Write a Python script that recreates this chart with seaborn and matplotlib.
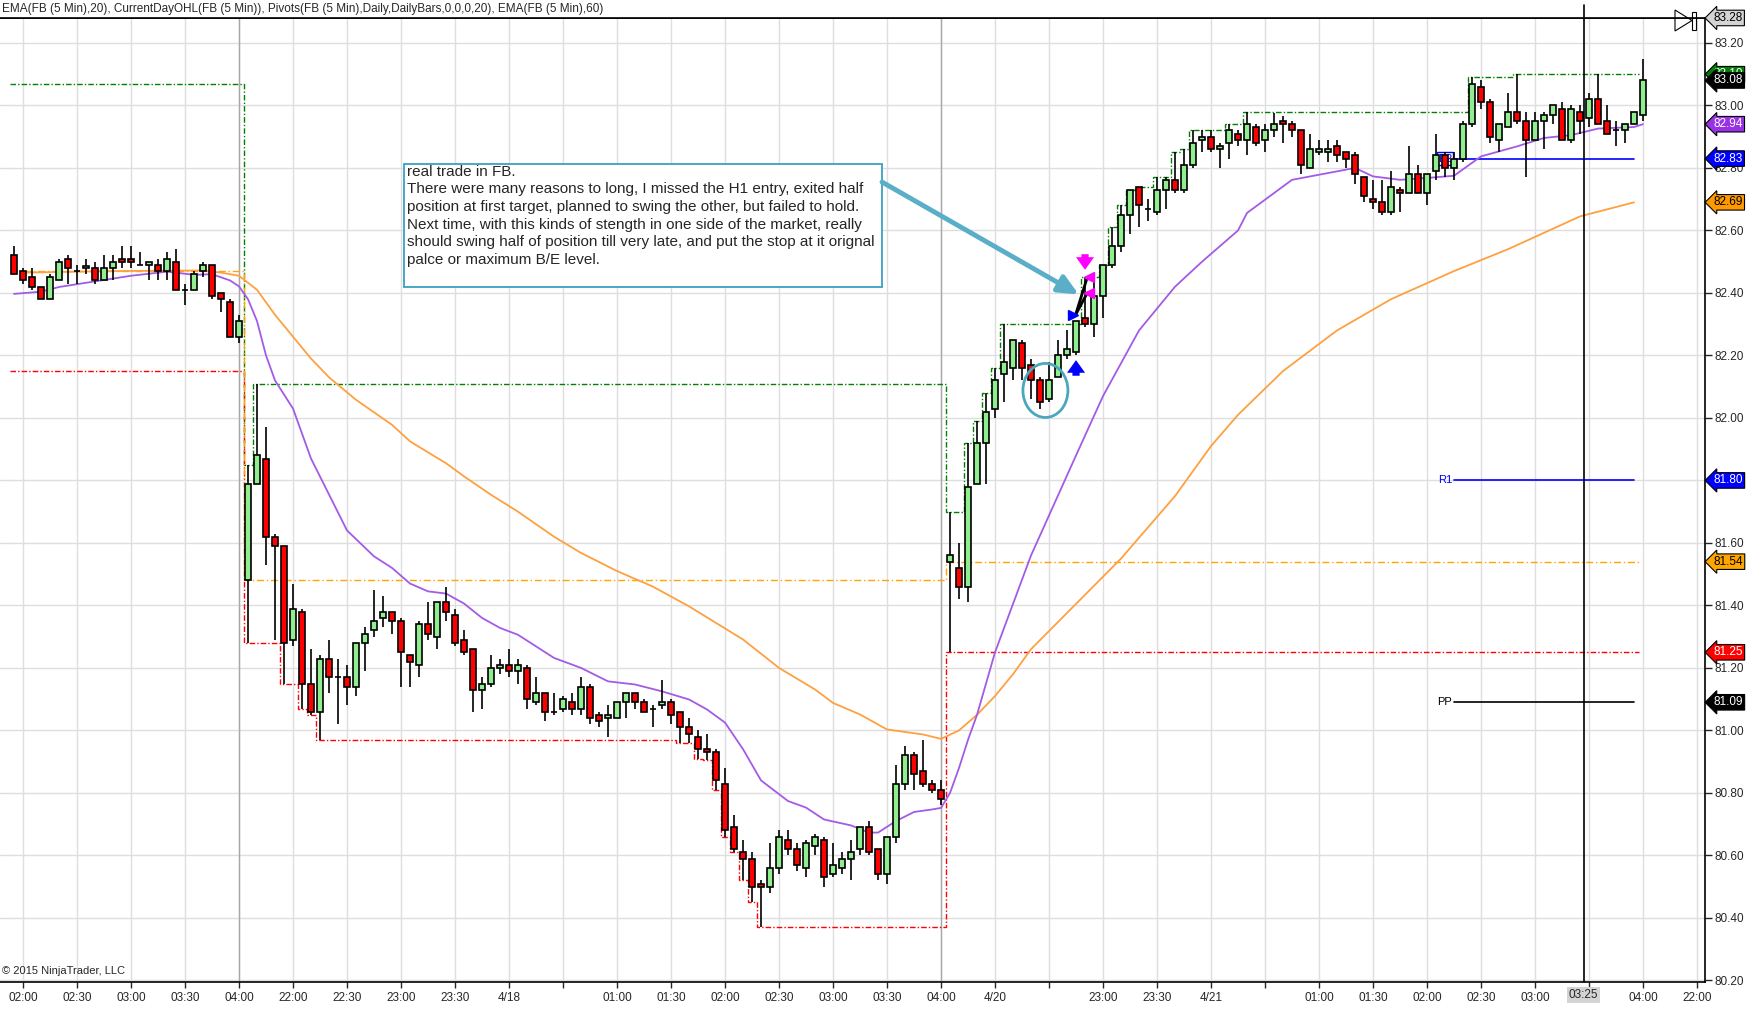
import numpy as np
import pandas as pd
import matplotlib
matplotlib.use("Agg")
import matplotlib.pyplot as plt
from matplotlib.patches import Ellipse, Polygon, Rectangle
import seaborn as sns

# 5-minute bars, index 0 = 02:00 of the first visible session
bars = list(range(-1, 181))
session_starts = [-1, 25, 103]

opens = [
    # session 1 (-1..24)
    82.52, 82.47, 82.45, 82.42, 82.38, 82.44, 82.51, 82.47, 82.48, 82.48, 82.44, 82.48, 82.51,
    82.51, 82.49, 82.49, 82.49, 82.47, 82.50, 82.41, 82.41, 82.47, 82.49, 82.40, 82.37, 82.26,
    # session 2 (25..102)
    81.48, 81.79, 81.87, 81.62, 81.59, 81.29, 81.38, 81.15, 81.06, 81.23,
    81.17, 81.17, 81.14, 81.28, 81.32, 81.36, 81.38, 81.35, 81.24, 81.21,
    81.34, 81.30, 81.41, 81.37, 81.29, 81.26, 81.13, 81.15, 81.20, 81.21,
    81.19, 81.20, 81.09, 81.12, 81.06, 81.07, 81.09, 81.07, 81.14, 81.05,
    81.04, 81.04, 81.09, 81.12, 81.09, 81.07, 81.08, 81.09, 81.06, 81.01,
    80.98, 80.94, 80.93, 80.83, 80.69, 80.61, 80.59, 80.51, 80.50, 80.56,
    80.65, 80.62, 80.56, 80.63, 80.65, 80.54, 80.56, 80.59, 80.62, 80.69,
    80.62, 80.54, 80.66, 80.83, 80.92, 80.87, 80.83, 80.81,
    # session 3 (103..180)
    81.54, 81.52, 81.46, 81.79, 81.92, 82.03, 82.14, 82.16, 82.24, 82.17,
    82.12, 82.06, 82.13, 82.20, 82.21, 82.32, 82.30, 82.39, 82.49, 82.55,
    82.65, 82.74, 82.67, 82.66, 82.73, 82.76, 82.73, 82.81, 82.89, 82.90,
    82.86, 82.88, 82.91, 82.89, 82.93, 82.89, 82.92, 82.95, 82.94, 82.92,
    82.80, 82.85, 82.85, 82.87, 82.85, 82.84, 82.77, 82.70, 82.69, 82.66,
    82.73, 82.72, 82.78, 82.72, 82.79, 82.84, 82.80, 82.83, 82.94, 83.06,
    83.01, 82.89, 82.93, 82.98, 82.95, 82.89, 82.95, 82.97, 82.99, 82.89,
    82.98, 82.96, 83.02, 82.95, 82.92, 82.92, 82.94, 82.97,
]
highs = [
    82.55, 82.48, 82.48, 82.42, 82.46, 82.51, 82.52, 82.49, 82.51, 82.50, 82.52, 82.52, 82.55,
    82.55, 82.53, 82.50, 82.51, 82.53, 82.54, 82.43, 82.47, 82.50, 82.49, 82.40, 82.38, 82.33,
    81.85, 82.11, 81.97, 81.63, 81.59, 81.47, 81.39, 81.26, 81.24, 81.29,
    81.23, 81.21, 81.28, 81.33, 81.45, 81.43, 81.38, 81.36, 81.24, 81.35,
    81.41, 81.41, 81.46, 81.39, 81.32, 81.26, 81.17, 81.24, 81.23, 81.26,
    81.23, 81.21, 81.17, 81.12, 81.12, 81.11, 81.12, 81.17, 81.15, 81.06,
    81.08, 81.09, 81.12, 81.12, 81.10, 81.08, 81.16, 81.10, 81.06, 81.04,
    81.00, 80.99, 80.94, 80.88, 80.73, 80.65, 80.61, 80.52, 80.64, 80.68,
    80.68, 80.64, 80.65, 80.67, 80.66, 80.64, 80.61, 80.65, 80.69, 80.71,
    80.62, 80.66, 80.89, 80.95, 80.93, 80.97, 80.84, 80.84,
    81.70, 81.60, 81.92, 81.99, 82.08, 82.16, 82.30, 82.25, 82.25, 82.19,
    82.13, 82.18, 82.25, 82.28, 82.30, 82.45, 82.45, 82.49, 82.61, 82.68,
    82.73, 82.74, 82.70, 82.77, 82.77, 82.85, 82.86, 82.92, 82.92, 82.92,
    82.88, 82.94, 82.92, 82.98, 82.94, 82.94, 82.975, 82.965, 82.95, 82.92,
    82.91, 82.89, 82.89, 82.89, 82.85, 82.85, 82.77, 82.76, 82.76, 82.79,
    82.74, 82.87, 82.81, 82.78, 82.91, 82.85, 82.85, 82.95, 83.09, 83.08,
    83.02, 82.94, 83.04, 83.10, 82.98, 82.98, 82.98, 83.00, 83.01, 83.00,
    83.00, 83.04, 83.10, 83.00, 82.95, 82.94, 82.98, 83.15,
]
lows = [
    82.46, 82.43, 82.41, 82.38, 82.38, 82.44, 82.43, 82.43, 82.46, 82.43, 82.44, 82.44, 82.48,
    82.48, 82.49, 82.44, 82.44, 82.44, 82.41, 82.36, 82.41, 82.45, 82.38, 82.34, 82.26, 82.24,
    81.28, 81.79, 81.53, 81.29, 81.15, 81.27, 81.07, 81.05, 80.97, 81.12,
    81.02, 81.08, 81.11, 81.19, 81.30, 81.33, 81.31, 81.14, 81.14, 81.17,
    81.29, 81.26, 81.35, 81.27, 81.24, 81.06, 81.07, 81.14, 81.18, 81.17,
    81.15, 81.07, 81.08, 81.03, 81.05, 81.06, 81.05, 81.05, 81.02, 81.01,
    80.98, 81.04, 81.04, 81.07, 81.06, 81.01, 81.07, 81.02, 80.96, 80.96,
    80.91, 80.905, 80.81, 80.66, 80.61, 80.52, 80.45, 80.37, 80.48, 80.54,
    80.60, 80.55, 80.53, 80.60, 80.50, 80.53, 80.54, 80.52, 80.60, 80.60,
    80.52, 80.51, 80.64, 80.81, 80.81, 80.82, 80.80, 80.76,
    81.25, 81.42, 81.41, 81.79, 81.79, 82.00, 82.05, 82.12, 82.12, 82.06,
    82.03, 82.05, 82.13, 82.19, 82.20, 82.29, 82.26, 82.32, 82.48, 82.53,
    82.59, 82.61, 82.63, 82.65, 82.67, 82.72, 82.72, 82.80, 82.85, 82.85,
    82.80, 82.83, 82.87, 82.84, 82.87, 82.85, 82.90, 82.88, 82.90, 82.78,
    82.80, 82.84, 82.82, 82.82, 82.80, 82.75, 82.69, 82.67, 82.65, 82.65,
    82.66, 82.72, 82.72, 82.68, 82.76, 82.77, 82.76, 82.82, 82.93, 82.99,
    82.88, 82.85, 82.93, 82.94, 82.77, 82.89, 82.86, 82.94, 82.89, 82.88,
    82.91, 82.93, 82.94, 82.91, 82.87, 82.88, 82.94, 82.95,
]
closes = [
    82.46, 82.44, 82.42, 82.38, 82.45, 82.50, 82.48, 82.47, 82.485, 82.44, 82.48, 82.50, 82.50,
    82.50, 82.49, 82.50, 82.47, 82.51, 82.41, 82.41, 82.46, 82.49, 82.39, 82.38, 82.26, 82.31,
    81.79, 81.88, 81.62, 81.59, 81.28, 81.39, 81.15, 81.06, 81.23, 81.17,
    81.17, 81.14, 81.28, 81.31, 81.35, 81.38, 81.35, 81.25, 81.22, 81.34,
    81.31, 81.41, 81.38, 81.28, 81.25, 81.13, 81.15, 81.20, 81.21, 81.19,
    81.21, 81.10, 81.12, 81.06, 81.06, 81.10, 81.07, 81.14, 81.04, 81.03,
    81.05, 81.09, 81.12, 81.09, 81.06, 81.07, 81.09, 81.05, 81.01, 80.99,
    80.94, 80.93, 80.84, 80.68, 80.62, 80.59, 80.50, 80.50, 80.56, 80.66,
    80.62, 80.57, 80.64, 80.66, 80.53, 80.57, 80.59, 80.61, 80.69, 80.61,
    80.54, 80.66, 80.83, 80.92, 80.86, 80.83, 80.81, 80.78,
    81.56, 81.46, 81.78, 81.92, 82.02, 82.12, 82.18, 82.25, 82.16, 82.12,
    82.05, 82.12, 82.20, 82.22, 82.31, 82.30, 82.39, 82.49, 82.55, 82.65,
    82.73, 82.68, 82.67, 82.73, 82.76, 82.73, 82.81, 82.88, 82.90, 82.86,
    82.87, 82.92, 82.89, 82.94, 82.88, 82.92, 82.94, 82.94, 82.92, 82.81,
    82.86, 82.86, 82.86, 82.84, 82.83, 82.78, 82.71, 82.69, 82.66, 82.74,
    82.72, 82.78, 82.72, 82.78, 82.84, 82.80, 82.83, 82.94, 83.07, 83.01,
    82.90, 82.94, 82.98, 82.95, 82.89, 82.95, 82.97, 83.00, 82.89, 82.99,
    82.95, 83.02, 82.94, 82.91, 82.92, 82.94, 82.98, 83.08,
]

# levels of the session that began before the visible window
prior_open, prior_high, prior_low = 82.47, 83.07, 82.15

# EMA readings (bar, value)
ema20_bar = [-1, 2, 4, 8, 12, 16, 19, 21, 23, 24, 25, 26, 27, 28, 30, 32, 36, 39, 41, 43, 45, 47,
             49, 51, 53, 55, 57, 59, 62, 65, 68, 71, 74, 76, 78, 80, 82, 85, 87, 89, 92, 94, 95,
             97, 99, 101, 102, 103, 104, 105, 106, 108, 112, 117, 120, 124, 128, 131, 135, 136,
             141, 148, 150, 153, 156, 159, 162, 166, 169, 172, 175, 179, 180]
ema20_val = [82.397, 82.404, 82.419, 82.437, 82.455, 82.468, 82.458, 82.460, 82.44, 82.421,
             82.38, 82.31, 82.20, 82.12, 82.03, 81.87, 81.64, 81.557, 81.52, 81.47, 81.445,
             81.438, 81.406, 81.36, 81.328, 81.306, 81.269, 81.232, 81.20, 81.157, 81.147,
             81.125, 81.099, 81.067, 81.025, 80.94, 80.84, 80.774, 80.753, 80.715, 80.696,
             80.673, 80.673, 80.71, 80.739, 80.747, 80.752, 80.80, 80.88, 80.97, 81.05, 81.25,
             81.56, 81.88, 82.07, 82.28, 82.42, 82.50, 82.60, 82.656, 82.762, 82.80, 82.773,
             82.762, 82.768, 82.775, 82.837, 82.869, 82.896, 82.905, 82.926, 82.931, 82.94]
ema60_bar = [0, 10, 20, 22, 24, 26, 28, 30, 32, 34, 37, 41, 43, 47, 49, 52, 55, 59, 62, 66, 70,
             74, 80, 84, 88, 90, 93, 96, 100, 102, 104, 106, 108, 110, 112, 122, 128, 132, 135,
             140, 146, 152, 159, 165, 173, 179]
ema60_val = [82.465, 82.47, 82.472, 82.465, 82.455, 82.41, 82.33, 82.26, 82.19, 82.13, 82.058,
             81.978, 81.925, 81.855, 81.813, 81.754, 81.70, 81.62, 81.568, 81.51, 81.46, 81.397,
             81.291, 81.20, 81.131, 81.088, 81.051, 81.003, 80.987, 80.973, 81.00, 81.05,
             81.11, 81.18, 81.26, 81.55, 81.75, 81.91, 82.01, 82.15, 82.28, 82.38, 82.47,
             82.54, 82.645, 82.69]

# daily pivots
pivot_names = ["R2", "R1", "PP"]
pivot_values = [82.83, 81.80, 81.09]
pivot_colors = ["blue", "blue", "black"]

# trade markers
entry_bar, entry_price = 117, 82.33
exit_bar, exit_prices = 118, [82.45, 82.40]

tick_bars = [0, 6, 12, 18, 24, 30, 36, 42, 48, 54, 60, 66, 72, 78, 84, 90, 96, 102, 108, 114,
             120, 126, 132, 138, 144, 150, 156, 162, 168, 174, 180, 186]
tick_labels = ["02:00", "02:30", "03:00", "03:30", "04:00", "22:00", "22:30", "23:00", "23:30",
               "4/18", "", "01:00", "01:30", "02:00", "02:30", "03:00", "03:30", "04:00", "4/20",
               "", "23:00", "23:30", "4/21", "", "01:00", "01:30", "02:00", "02:30", "03:00", "",
               "04:00", "22:00"]
session_breaks = [24, 102]
cursor_bar, cursor_price, cursor_label = 173.4, 83.28, "03:25"

header = ("EMA(FB (5 Min),20), CurrentDayOHL(FB (5 Min)), Pivots(FB (5 Min),Daily,DailyBars,"
          "0,0,0,20), EMA(FB (5 Min),60)")
note = ("real trade in FB.\n"
        "There were many reasons to long, I missed the H1 entry, exited half\n"
        "position at first target, planned to swing the other, but failed to hold.\n"
        "Next time, with this kinds of stength in one side of the market, really\n"
        "should swing half of position till very late, and put the stop at it orignal\n"
        "palce or maximum B/E level.")

# ---------------------------------------------------------------
df = pd.DataFrame({"bar": bars, "open": opens, "high": highs, "low": lows, "close": closes})
df["session"] = np.searchsorted(session_starts, df["bar"], side="right") - 1
df["day_high"] = df.groupby("session")["high"].cummax()
df["day_low"] = df.groupby("session")["low"].cummin()
df["day_open"] = df.groupby("session")["open"].transform("first")
first = df["session"] == 0
df.loc[first, "day_high"] = np.maximum(df.loc[first, "day_high"], prior_high)
df.loc[first, "day_low"] = np.minimum(df.loc[first, "day_low"], prior_low)
df.loc[first, "day_open"] = prior_open

sns.set_style("white")
plt.rcParams["font.family"] = ["Liberation Sans", "DejaVu Sans"]

fig = plt.figure(figsize=(17.52, 10.09), dpi=100)
ax = fig.add_axes([0.0, 0.0268, 0.9732, 0.9554])
ax.set_xlim(-2.556, 186.89)
ax.set_ylim(80.195, 83.28)

# grid
ax.set_yticks(np.round(np.arange(80.2, 83.21, 0.2), 2))
ax.set_xticks(tick_bars)
ax.set_xticklabels(tick_labels)
ax.grid(True, color="#dedede", lw=1)
ax.set_axisbelow(True)
for b in session_breaks:
    ax.axvline(b, color="#a8a8a8", lw=1, zorder=1)

# current day OHL (calculated on bar close -> up to the bar before the last one)
ohl = df[df["bar"] <= 179]
edges = np.arange(ohl["bar"].iloc[0] - 0.5, ohl["bar"].iloc[-1] + 1.0, 1.0)
ax.stairs(ohl["day_high"], edges, baseline=None, color="#008000", lw=1,
          ls=(0, (4, 1.5, 1, 1.5)), zorder=2)
ax.stairs(ohl["day_low"], edges, baseline=None, color="#ff0000", lw=1,
          ls=(0, (4, 1.5, 1, 1.5)), zorder=2)
ax.stairs(ohl["day_open"], edges, baseline=None, color="#ffa500", lw=1,
          ls=(0, (5, 2, 1, 2)), zorder=2)

# pivots
for name, val, col in zip(pivot_names, pivot_values, pivot_colors):
    ax.plot([159, 179], [val, val], color=col, lw=1.2, zorder=2)
    box = dict(boxstyle="square,pad=0.1", fc="none", ec="blue", lw=1) if name == "R2" else None
    ax.text(158.8, val, name, color=col, fontsize=8, ha="right", va="center", bbox=box, zorder=2)

# EMAs
sns.lineplot(x=ema60_bar, y=ema60_val, ax=ax, color="#ffa040", lw=1.3, sort=False,
             estimator=None, zorder=3)
sns.lineplot(x=ema20_bar, y=ema20_val, ax=ax, color="#a35be6", lw=1.3, sort=False,
             estimator=None, zorder=3)

# candles
o = df["open"].to_numpy()
c = df["close"].to_numpy()
up = c >= o
ax.vlines(df["bar"], df["low"], df["high"], color="black", lw=1.2, zorder=4)
ax.bar(df["bar"], np.abs(c - o), bottom=np.minimum(o, c), width=0.7,
       color=np.where(up, "#90ee90", "#ff0000"), edgecolor="black", linewidth=1.2, zorder=5)

# trade markers
for p in exit_prices:
    ax.plot([entry_bar - 0.05, exit_bar + 0.25], [entry_price, p], color="black", lw=2, zorder=6)
    ax.plot(exit_bar + 0.45, p, marker="<", color="magenta", ms=7, zorder=7)
ax.plot(entry_bar - 0.3, entry_price, marker=">", color="blue", ms=7, zorder=7)
block = "simple,head_width=0.5,head_length=0.35,tail_width=0.2"
ax.annotate("", xy=(entry_bar, 82.185), xytext=(entry_bar, 82.135),
            arrowprops=dict(arrowstyle=block, mutation_scale=26, color="blue", lw=0,
                            shrinkA=0, shrinkB=0), zorder=7)
ax.annotate("", xy=(exit_bar, 82.474), xytext=(exit_bar, 82.524),
            arrowprops=dict(arrowstyle=block, mutation_scale=26, color="magenta", lw=0,
                            shrinkA=0, shrinkB=0), zorder=7)
ax.add_patch(Ellipse((113.6, 82.088), 5.0, 0.173, fill=False, ec="#4aa8bd", lw=2, zorder=6))

# text note with arrow
ax.add_patch(Rectangle((0.237, 0.7214), 0.2803, 0.1272, transform=ax.transAxes,
                       fc="white", ec="#3aa0c0", lw=1.3, zorder=8))
ax.text(0.2385, 0.8475, note, transform=ax.transAxes, fontsize=11, va="top", ha="left",
        linespacing=1.32, zorder=9)
ax.annotate("", xy=(117.3, 82.395), xytext=(0.5173, 0.8298),
            textcoords="axes fraction",
            arrowprops=dict(arrowstyle="-|>,head_length=1.2,head_width=0.55", color="#5aaec8",
                            lw=3.5, shrinkA=0, shrinkB=0), zorder=9)

# crosshair
ax.plot([cursor_bar, cursor_bar], [80.195, 83.32], color="black", lw=1.2, zorder=9,
        clip_on=False)
ax.axhline(cursor_price, color="black", lw=1.2, zorder=9)
ax.text(cursor_bar, -0.0135, cursor_label, transform=ax.get_xaxis_transform(), fontsize=8.5,
        ha="center", va="center", bbox=dict(boxstyle="square,pad=0.15", fc="#d4d4d4", ec="none"))

# axes look
ax.spines["left"].set_visible(False)
for s in ["right", "bottom", "top"]:
    ax.spines[s].set_color("black")
    ax.spines[s].set_linewidth(1.2)
ax.yaxis.tick_right()
ax.yaxis.set_major_formatter(matplotlib.ticker.FormatStrFormatter("%.2f"))
ax.tick_params(axis="y", direction="out", length=5, width=1, pad=2, labelsize=8.5,
               right=True, left=False)
ax.tick_params(axis="x", direction="out", length=4, width=1, pad=3, labelsize=8.5,
               bottom=True)
ax.set_xlabel("")
ax.set_ylabel("")

# price tags on the right axis
last = df[df["bar"] <= 179].iloc[-1]
tags = [
    (cursor_price, "#d4d4d4", "black"),
    (last["day_high"], "#008000", "white"),
    (df["close"].iloc[-1], "black", "white"),
    (ema20_val[-1], "#9932e6", "white"),
    (pivot_values[0], "blue", "white"),
    (ema60_val[-1], "#ff9900", "black"),
    (pivot_values[1], "blue", "white"),
    (last["day_open"], "#ffa500", "black"),
    (last["day_low"], "red", "white"),
    (pivot_values[2], "black", "white"),
]
for val, fc, tc in tags:
    ax.annotate(f"{val:.2f}", xy=(1.0, val), xycoords=("axes fraction", "data"),
                xytext=(6, 0), textcoords="offset points", ha="left", va="center",
                fontsize=8.5, color=tc, annotation_clip=False, zorder=12,
                bbox=dict(boxstyle="larrow,pad=0.15", fc=fc, ec="black", lw=0.8))

ax.text(0.001, 0.006, "\u00a9 2015 NinjaTrader, LLC", transform=ax.transAxes, fontsize=8,
        ha="left", va="bottom")
fig.text(0.001, 0.9975, header, fontsize=8.5, ha="left", va="top")

# panel icon at top right
W, H = 1752.0, 1009.0
fig.add_artist(Polygon([(1675 / W, 1 - 10 / H), (1675 / W, 1 - 31 / H), (1692 / W, 1 - 20.5 / H)],
                       closed=True, fill=False, ec="black", lw=0.8, transform=fig.transFigure))
fig.add_artist(Rectangle((1692 / W, 1 - 30 / H), 4 / W, 18 / H, fill=False, ec="black", lw=0.8,
                         transform=fig.transFigure))

fig.savefig("out.png", dpi=100)
